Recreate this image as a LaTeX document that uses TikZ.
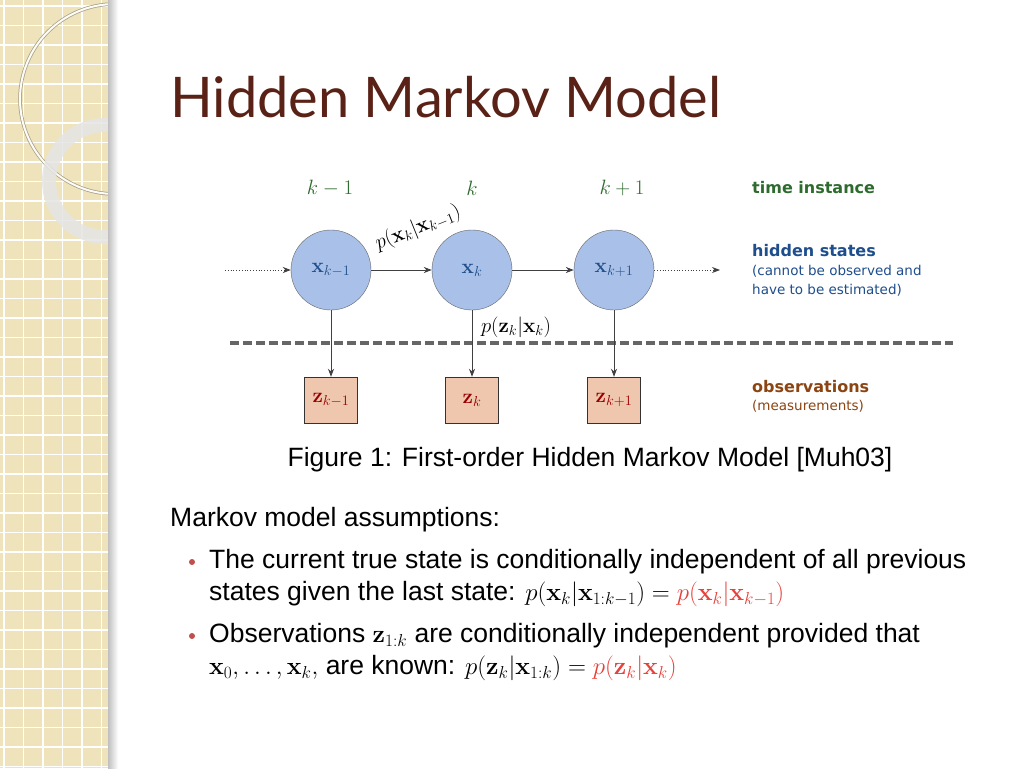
\documentclass[tikz,border=0pt]{standalone}
\usepackage{amsmath}
\usepackage[no-math]{fontspec}
\setmainfont{Liberation Sans}
\newfontfamily\titlefont{Lato}
\newfontfamily\djv{DejaVu Sans}
\usetikzlibrary{arrows.meta}
\definecolor{beige}{HTML}{EFE3BC}
\definecolor{titlec}{HTML}{5A2216}
\definecolor{nodeblue}{HTML}{A9C1E8}
\definecolor{sqfill}{HTML}{EEC7AE}
\definecolor{gk}{HTML}{2E6B2E}
\definecolor{hb}{HTML}{1F4E8C}
\definecolor{obs}{HTML}{8B4513}
\definecolor{bul}{HTML}{C0504D}
\definecolor{pred}{HTML}{E8403A}
\tikzset{
 state/.style={circle,draw=gray!80!black,fill=nodeblue,minimum size=80pt,inner sep=0pt},
 obsbox/.style={rectangle,draw=black!80,fill=sqfill,minimum width=53pt,minimum height=46pt,inner sep=0pt},
 arr/.style={-{Stealth[length=8pt,width=6pt]},draw=black!75,line width=0.8pt},
 dotarr/.style={arr,dotted},
 side/.style={anchor=west,inner sep=0pt},
 body/.style={anchor=west,font=\fontsize{26.5}{30}\selectfont,inner sep=0pt},
 dfont/.style={font=\fontsize{19.5}{22}\selectfont},
}
\begin{document}
\begin{tikzpicture}[x=1pt,y=-1pt]
\useasboundingbox (0,0) rectangle (1024,768);
\fill[white] (0,0) rectangle (1024,768);
% left strip
\fill[beige] (0,0) rectangle (112,768);
\foreach \i in {0,...,40}{\draw[white,line width=1.2pt] (\i*19.5+4,0) -- ++(0,768);}
\foreach \i in {0,...,40}{\draw[white,line width=1.2pt] (0,\i*19.5+6) -- ++(112,0);}
\begin{scope}
\clip (0,0) rectangle (112,768);
\draw[black!30!beige,line width=3.5pt] (115,99) circle (95);
\draw[white!90!beige,line width=2pt] (115,99) circle (95);
\draw[white!80!gray,opacity=0.85,line width=14pt] (105,181) circle (56);
\end{scope}
\fill[left color=black!25,right color=white] (108,0) rectangle (118,768);
% title
\node[anchor=base west,text=titlec,inner sep=0pt,font=\titlefont\fontsize{56}{60}\selectfont] (title) at (170,117) {Hidden Markov Model};
% diagram
\begin{scope}[every node/.style={dfont}]
\node (k1) at (330,188) {\textcolor{gk}{$k-1$}};
\node (k2) at (472,188) {\textcolor{gk}{$k$}};
\node (k3) at (622,188) {\textcolor{gk}{$k+1$}};
\node[state] (x1) at (331,270) {\textcolor{hb}{$\mathbf{x}_{k-1}$}};
\node[state] (x2) at (472,270) {\textcolor{hb}{$\mathbf{x}_{k}$}};
\node[state] (x3) at (614,270) {\textcolor{hb}{$\mathbf{x}_{k+1}$}};
\node[obsbox] (z1) at (331,400) {\textcolor{red!60!black}{$\mathbf{z}_{k-1}$}};
\node[obsbox] (z2) at (472,400) {\textcolor{red!60!black}{$\mathbf{z}_{k}$}};
\node[obsbox] (z3) at (614,400) {\textcolor{red!60!black}{$\mathbf{z}_{k+1}$}};
\node[rotate=22] (lab1) at (418,228) {$p(\mathbf{x}_k|\mathbf{x}_{k-1})$};
\node (lab2) at (516,327) {$p(\mathbf{z}_k|\mathbf{x}_k)$};
\end{scope}
\coordinate (din) at (225,270);
\coordinate (dout) at (720,270);
\coordinate (dl) at (230,343);
\coordinate (dr) at (953,343);
\draw[gray!80!black,line width=3.5pt,dash pattern=on 9pt off 4pt] (dl) -- (dr);
\draw[dotarr] (din) -- (x1);
\draw[dotarr] (x3) -- (dout);
\draw[arr] (x1) -- (x2);
\draw[arr] (x2) -- (x3);
\draw[arr] (x1) -- (z1);
\draw[arr] (x2) -- (z2);
\draw[arr] (x3) -- (z3);
\node[side,text=gk,font=\djv\bfseries\fontsize{16}{18}\selectfont] (t1) at (752,188) {time instance};
\node[side,text=hb,font=\djv\bfseries\fontsize{16}{18}\selectfont] (t2) at (752,251) {hidden states};
\node[side,text=hb,font=\djv\fontsize{13.5}{15}\selectfont] (t3) at (752,271) {(cannot be observed and};
\node[side,text=hb,font=\djv\fontsize{13.5}{15}\selectfont] (t4) at (752,290) {have to be estimated)};
\node[side,text=obs,font=\djv\bfseries\fontsize{16}{18}\selectfont] (t5) at (752,387) {observations};
\node[side,text=obs,font=\djv\fontsize{13.5}{15}\selectfont] (t6) at (752,406) {(measurements)};
\node[inner sep=0pt,font=\fontsize{26.5}{30}\selectfont] (cap) at (590,460) {Figure 1: First-order Hidden Markov Model [Muh03]};
% text
\node[body] (m) at (170,520) {Markov model assumptions:};
\fill[bul] (192,562) circle (3);
\fill[bul] (192,636) circle (3);
\node[body] (b1) at (209,562) {The current true state is conditionally independent of all previous};
\node[body] (b2) at (209,594) {states given the last state: $p(\mathbf{x}_k|\mathbf{x}_{1:k-1}) = \textcolor{pred}{p(\mathbf{x}_k|\mathbf{x}_{k-1})}$};
\node[body] (b3) at (209,636) {Observations $\mathbf{z}_{1:k}$ are conditionally independent provided that};
\node[body] (b4) at (209,668) {$\mathbf{x}_0,\ldots,\mathbf{x}_k,$ are known: $p(\mathbf{z}_k|\mathbf{x}_{1:k}) = \textcolor{pred}{p(\mathbf{z}_k|\mathbf{x}_k)}$};
\end{tikzpicture}
\end{document}
